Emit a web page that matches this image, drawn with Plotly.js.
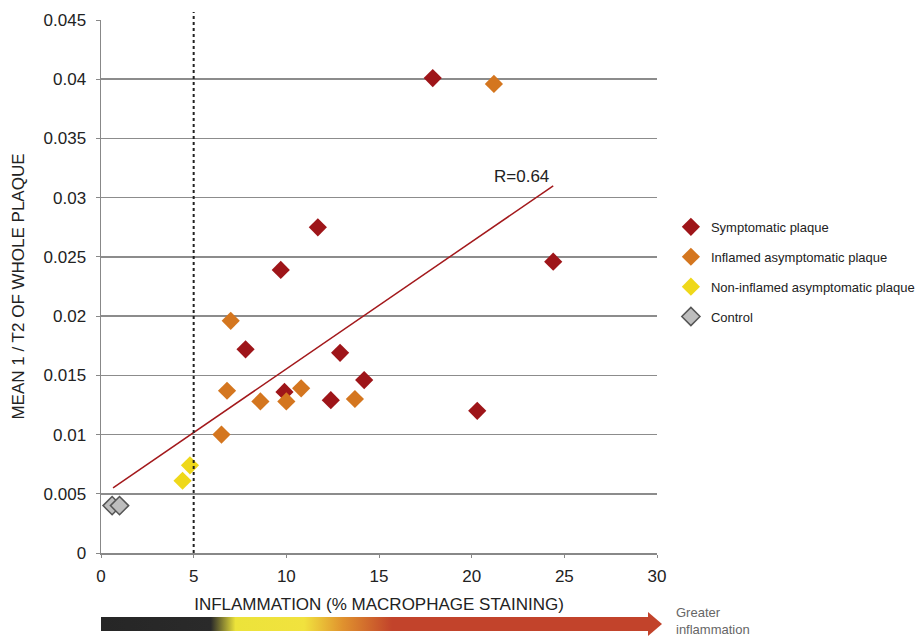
<!DOCTYPE html>
<html>
<head>
<meta charset="utf-8">
<script src="https://cdn.plot.ly/plotly-3.0.1.min.js"></script>
<style>html,body{margin:0;padding:0;background:#fff;}#chart{width:922px;height:636px;}</style>
</head>
<body>
<div id="chart"></div>
<script>
// ---- data ----
const symptomaticX = [17.9, 11.7, 9.7, 7.8, 12.9, 9.9, 14.2, 12.4, 20.3, 24.4];
const symptomaticY = [0.0401, 0.0275, 0.0239, 0.0172, 0.0169, 0.0136, 0.0146, 0.0129, 0.0120, 0.0246];
const inflamedX = [21.2, 7.0, 6.8, 8.6, 10.0, 10.8, 13.7, 6.5];
const inflamedY = [0.0396, 0.0196, 0.0137, 0.0128, 0.0128, 0.0139, 0.0130, 0.0100];
const nonInflamedX = [4.8, 4.4];
const nonInflamedY = [0.0074, 0.0061];
const controlX = [0.6, 1.0];
const controlY = [0.0040, 0.0040];
const trendX = [0.65, 24.4];
const trendY = [0.0055, 0.0310];
const thresholdX = 5;
const rLabel = "R=0.64";
const yTickVals = [0, 0.005, 0.01, 0.015, 0.02, 0.025, 0.03, 0.035, 0.04, 0.045];
const yTickText = ["0", "0.005", "0.01", "0.015", "0.02", "0.025", "0.03", "0.035", "0.04", "0.045"];
const xTickVals = [0, 5, 10, 15, 20, 25, 30];
const seriesNames = ["Symptomatic plaque", "Inflamed asymptomatic plaque", "Non-inflamed asymptomatic plaque", "Control"];

const FONT = "Liberation Sans, Arial, Helvetica, sans-serif";

function mk(x, y, name, fill, line, g) {
  return {
    type: 'scatter', mode: 'markers', x: x, y: y, name: name, legendgroup: g,
    marker: {symbol: 'diamond', size: 14, color: fill, line: {color: line, width: line === fill ? 0 : 1.5}},
    cliponaxis: false
  };
}

const traces = [
  {type: 'scatter', mode: 'lines', x: trendX, y: trendY, showlegend: false,
   line: {color: '#A3191C', width: 1.5}, hoverinfo: 'skip'},
  mk(symptomaticX, symptomaticY, seriesNames[0], '#9E1519', '#9E1519', 'a'),
  mk(inflamedX, inflamedY, seriesNames[1], '#D4761F', '#D4761F', 'b'),
  mk(nonInflamedX, nonInflamedY, seriesNames[2], '#EFD81A', '#EFD81A', 'c'),
  mk(controlX, controlY, seriesNames[3], '#BDBDBD', '#555555', 'd')
];

const svg = '<svg xmlns="http://www.w3.org/2000/svg" width="561" height="24" viewBox="0 0 561 24">' +
  '<defs><linearGradient id="g" x1="0" y1="0" x2="1" y2="0">' +
  '<stop offset="0" stop-color="#262626"/>' +
  '<stop offset="0.20" stop-color="#2a2a2a"/>' +
  '<stop offset="0.245" stop-color="#ece33a"/>' +
  '<stop offset="0.37" stop-color="#f1e23e"/>' +
  '<stop offset="0.44" stop-color="#e0922e"/>' +
  '<stop offset="0.53" stop-color="#c2432b"/>' +
  '<stop offset="1" stop-color="#c2432b"/>' +
  '</linearGradient></defs>' +
  '<rect x="0" y="5" width="549" height="14" fill="url(#g)"/>' +
  '<polygon points="547,0 561,12 547,24" fill="#c2432b"/></svg>';
const svgUri = 'data:image/svg+xml;charset=utf-8,' + encodeURIComponent(svg);

const layout = {
  width: 922, height: 636,
  margin: {l: 101, r: 265, t: 20, b: 83, autoexpand: false},
  paper_bgcolor: '#fff', plot_bgcolor: '#fff',
  font: {family: FONT, color: '#222', size: 14},
  showlegend: true,
  legend: {x: 1.025, xanchor: 'left', y: 0.64, yanchor: 'top', traceorder: 'grouped',
           tracegroupgap: 10, font: {size: 13, color: '#222'}, bgcolor: 'rgba(0,0,0,0)'},
  xaxis: {range: [0, 30], tickvals: xTickVals, showgrid: false, zeroline: false, automargin: false,
          showline: true, linecolor: '#888', linewidth: 1.5, ticks: 'outside', ticklen: 3,
          tickcolor: '#888', tickfont: {size: 17, color: '#222'}, ticklabelstandoff: 4,
          title: {text: 'INFLAMMATION (% MACROPHAGE STAINING)', font: {size: 17, color: '#222'}, standoff: 13}},
  yaxis: {range: [0, 0.045], tickvals: yTickVals, ticktext: yTickText, showgrid: true, automargin: false,
          gridcolor: '#8c8c8c', gridwidth: 1.5, zeroline: false,
          showline: true, linecolor: '#888', linewidth: 1.5, ticks: 'outside', ticklen: 4,
          tickcolor: '#888', tickfont: {size: 17, color: '#222'}, ticklabelstandoff: 6,
          title: {text: 'MEAN 1 / T2 OF WHOLE PLAQUE', font: {size: 17, color: '#222'}, standoff: 14}},
  shapes: [
    {type: 'line', xref: 'x', yref: 'paper', x0: thresholdX, x1: thresholdX, y0: 0, y1: 1.015,
     line: {color: '#222', width: 2, dash: 'dot'}}
  ],
  annotations: [
    {xref: 'x', yref: 'y', x: 22.7, y: 0.0318, text: rLabel, showarrow: false,
     font: {size: 17, color: '#222'}},
    {xref: 'paper', yref: 'paper', x: 1.03, y: -0.128, xanchor: 'left', yanchor: 'middle',
     text: 'Greater<br>inflammation', showarrow: false, align: 'left',
     font: {size: 13, color: '#666'}}
  ],
  images: [
    {source: svgUri, xref: 'paper', yref: 'paper', x: 0, y: -0.1107, sizex: 1.009, sizey: 0.045,
     xanchor: 'left', yanchor: 'top', sizing: 'stretch', layer: 'above'}
  ]
};

Plotly.newPlot('chart', traces, layout, {displayModeBar: false, staticPlot: true});
</script>
</body>
</html>
